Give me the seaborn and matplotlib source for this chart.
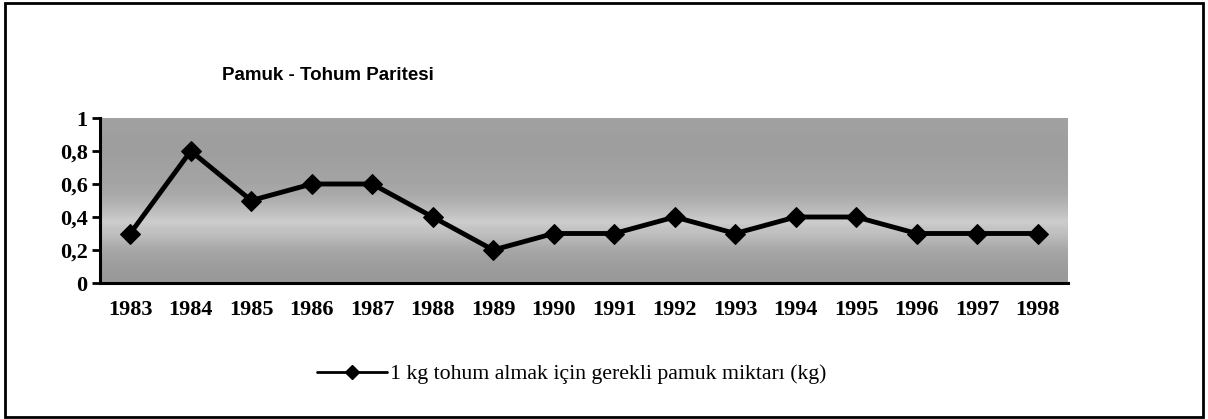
import numpy as np
import pandas as pd
import matplotlib
matplotlib.use("Agg")
import matplotlib.pyplot as plt
import seaborn as sns
from matplotlib.patches import Rectangle
from matplotlib.lines import Line2D
from matplotlib.ticker import FixedLocator, FuncFormatter

years = ["1983", "1984", "1985", "1986", "1987", "1988", "1989", "1990",
         "1991", "1992", "1993", "1994", "1995", "1996", "1997", "1998"]
cotton_needed = [0.3, 0.8, 0.5, 0.6, 0.6, 0.4, 0.2, 0.3,
                 0.3, 0.4, 0.3, 0.4, 0.4, 0.3, 0.3, 0.3]
y_ticks = [0, 0.2, 0.4, 0.6, 0.8, 1]
series_label = "1 kg tohum almak için gerekli pamuk miktarı (kg)"
title = "Pamuk - Tohum Paritesi"

sns.set_style("white")
plt.rcParams["font.family"] = ["Liberation Serif", "DejaVu Serif"]
plt.rcParams["text.color"] = "black"
plt.rcParams["xtick.color"] = "black"
plt.rcParams["ytick.color"] = "black"
plt.rcParams["axes.labelcolor"] = "black"

df = pd.DataFrame({"Yıl": years, "Miktar": cotton_needed})

fig = plt.figure(figsize=(12.08, 4.19), dpi=100)
ax = fig.add_axes([100 / 1208, 1 - 283 / 419, 968 / 1208, 165 / 419])

# shaded plot background with a lighter band in the lower-middle part
grad = np.array([0.60, 0.62, 0.66, 0.74, 0.80, 0.72, 0.66, 0.64, 0.63, 0.62, 0.62, 0.63])
ax.imshow(grad[:, None], cmap="gray", vmin=0, vmax=1, aspect="auto",
          extent=[-0.5, 15.5, 0, 1], origin="lower", interpolation="bilinear",
          zorder=0)

sns.lineplot(data=df, x="Yıl", y="Miktar", ax=ax, color="black", linewidth=3.5,
             marker="D", markersize=10, markeredgecolor="black",
             legend=False, zorder=3, sort=False)

ax.set_xlim(-0.5, len(years) - 0.5)
ax.set_ylim(0, 1)
ax.set_xlabel("")
ax.set_ylabel("")

ax.xaxis.set_major_locator(FixedLocator(range(len(years))))
ax.set_xticklabels(years)
ax.xaxis.set_minor_locator(FixedLocator(np.arange(-0.5, len(years), 1.0)))
ax.tick_params(axis="x", which="major", length=0, pad=12, labelsize=16,
               labelcolor="black")
ax.tick_params(axis="x", which="minor", length=7, width=2, direction="out",
               color="black")
for t in ax.get_xticklabels():
    t.set_fontweight("bold")

ax.set_yticks(y_ticks)
ax.yaxis.set_major_formatter(FuncFormatter(lambda v, p: f"{v:g}".replace(".", ",")))
ax.tick_params(axis="y", length=6, width=2, direction="out", color="black",
               labelsize=16, pad=3, left=True, labelcolor="black")
for t in ax.get_yticklabels():
    t.set_fontweight("bold")

for side in ["left", "bottom"]:
    ax.spines[side].set_linewidth(2.2)
    ax.spines[side].set_color("black")
for side in ["top", "right"]:
    ax.spines[side].set_visible(False)

fig.text(328 / 1208, 1 - 75 / 419, title, ha="center", va="center",
         fontsize=13.5, fontweight="bold", color="black",
         family=["Liberation Sans", "DejaVu Sans"])

handle = Line2D([], [], color="black", linewidth=2, marker="D", markersize=7)
leg = fig.legend([handle], [series_label], loc="center",
                 bbox_to_anchor=(572 / 1208, 1 - 374 / 419),
                 frameon=False, handlelength=3.2, handletextpad=0.15,
                 prop={"family": ["Liberation Serif", "DejaVu Serif"], "size": 15.7})
for t in leg.get_texts():
    t.set_color("black")

# outer chart border
fig.patches.append(Rectangle((5 / 1208, 2 / 419), 1198 / 1208, 414 / 419,
                             transform=fig.transFigure, fill=False,
                             edgecolor="black", linewidth=2))

fig.savefig("out.png", dpi=100)
